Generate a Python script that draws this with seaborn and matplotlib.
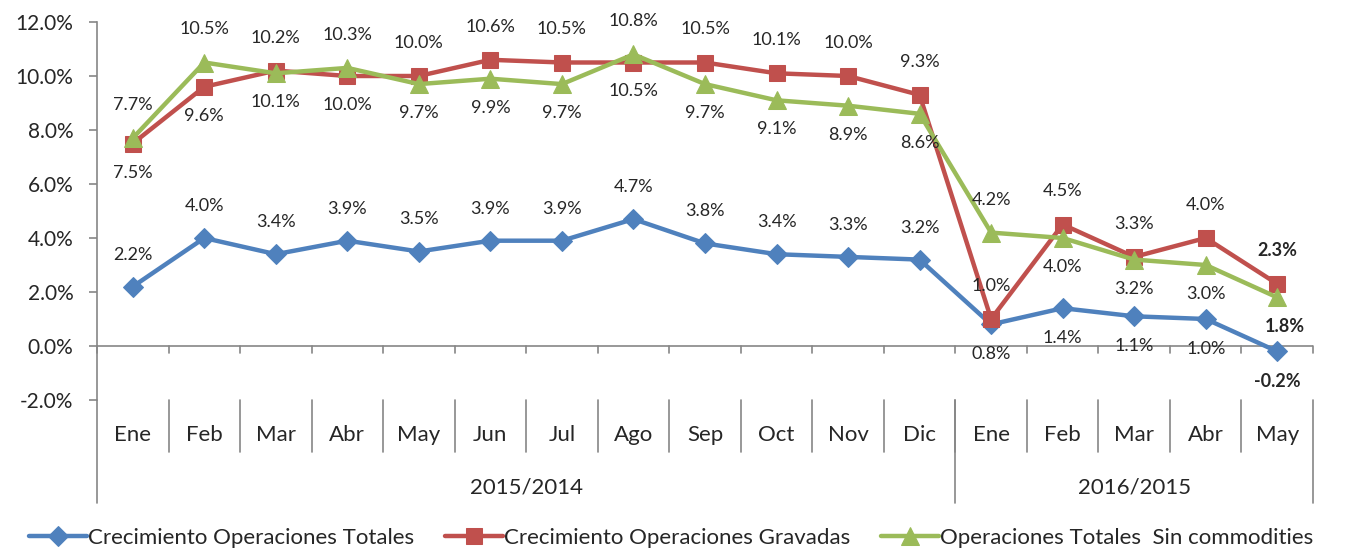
import pandas as pd
import seaborn as sns
import matplotlib.pyplot as plt
from matplotlib.transforms import blended_transform_factory

meses = ['Ene', 'Feb', 'Mar', 'Abr', 'May', 'Jun', 'Jul', 'Ago', 'Sep', 'Oct', 'Nov', 'Dic',
         'Ene', 'Feb', 'Mar', 'Abr', 'May']
grupos = ['2015/2014', '2016/2015']
grupo_len = [12, 5]

totales = [2.2, 4.0, 3.4, 3.9, 3.5, 3.9, 3.9, 4.7, 3.8, 3.4, 3.3, 3.2, 0.8, 1.4, 1.1, 1.0, -0.2]
gravadas = [7.5, 9.6, 10.2, 10.0, 10.0, 10.6, 10.5, 10.5, 10.5, 10.1, 10.0, 9.3, 1.0, 4.5, 3.3, 4.0, 2.3]
sin_comm = [7.7, 10.5, 10.1, 10.3, 9.7, 9.9, 9.7, 10.8, 9.7, 9.1, 8.9, 8.6, 4.2, 4.0, 3.2, 3.0, 1.8]

nombres = ['Crecimiento Operaciones Totales', 'Crecimiento Operaciones Gravadas',
           'Operaciones Totales  Sin commodities']
colores = ['#4F81BD', '#C0504D', '#9BBB59']
marcas = ['D', 's', '^']
tam = [10, 12, 13]

sns.set_style('white')
plt.rcParams['font.family'] = ['Lato', 'DejaVu Sans']

fig = plt.figure(figsize=(13.45, 5.53), dpi=100)
ax = fig.add_axes([97 / 1345, 1 - 400 / 553, (1313 - 97) / 1345, 378 / 553])

pos = list(range(len(meses)))
series = [totales, gravadas, sin_comm]
for vals, nom, col, m, s in zip(series, nombres, colores, marcas, tam):
    df = pd.DataFrame({'pos': pos, 'val': vals})
    sns.lineplot(data=df, x='pos', y='val', ax=ax, color=col, marker=m, markersize=s,
                 markeredgecolor=col, linewidth=3.2, label=nom)

# etiquetas de datos
n = len(meses)
fs_lab = 13
for i in range(n):
    last = (i == n - 1)
    fw = 'bold' if last else 'normal'
    dy = 32 if i < 12 else -30
    ax.annotate(f'{totales[i]:.1f}%', (i, totales[i]), xytext=(0, dy), textcoords='offset pixels',
                ha='center', va='center', fontsize=fs_lab, fontweight=fw)
    if i == 12:
        r_up, g_up = True, True
    else:
        r_up = gravadas[i] >= sin_comm[i]
        g_up = not r_up
    ax.annotate(f'{gravadas[i]:.1f}%', (i, gravadas[i]), xytext=(0, 33 if r_up else -29),
                textcoords='offset pixels', ha='center', va='center', fontsize=fs_lab, fontweight=fw)
    gx = 8 if last else 0
    ax.annotate(f'{sin_comm[i]:.1f}%', (i, sin_comm[i]), xytext=(gx, 33 if g_up else -29),
                textcoords='offset pixels', ha='center', va='center', fontsize=fs_lab, fontweight=fw)

ax.set_xlim(-0.5, n - 0.5)
ax.set_ylim(-2, 12)
ax.set_yticks(range(-2, 13, 2))
ax.set_yticklabels([f'{v:.1f}%' for v in range(-2, 13, 2)], fontsize=15)
ax.set_xticks([])
ax.set_xlabel('')
ax.set_ylabel('')
for sp in ['top', 'right', 'bottom']:
    ax.spines[sp].set_visible(False)
gris = '#868686'
ax.spines['left'].set_color(gris)
ax.spines['left'].set_linewidth(1.2)
ax.tick_params(axis='y', left=True, length=6, width=1.2, color=gris, pad=11)

# eje en cero con marcas
ax.axhline(0, color=gris, linewidth=1.2, zorder=1)
tr = blended_transform_factory(ax.transData, ax.transAxes)
y0 = 2 / 14
for b in range(n + 1):
    ax.plot([b - 0.5, b - 0.5], [y0, y0 - 0.018], color=gris, lw=1.2, transform=tr, clip_on=False)

# categorias en dos niveles
fs_cat = 16
for i, m in enumerate(meses):
    ax.text(i, -0.093, m, transform=tr, ha='center', va='center', fontsize=fs_cat)
for b in range(1, n):
    ax.plot([b - 0.5, b - 0.5], [0, -0.138], color=gris, lw=1.2, transform=tr, clip_on=False)
start = 0
for g, L in zip(grupos, grupo_len):
    ax.text(start + (L - 1) / 2, -0.232, g, transform=tr, ha='center', va='center', fontsize=fs_cat)
    start += L
for b in [0, 12, 17]:
    ax.plot([b - 0.5, b - 0.5], [0, -0.273], color=gris, lw=1.2, transform=tr, clip_on=False)

h, l = ax.get_legend_handles_labels()
ax.get_legend().remove()
fig.legend(h, l, loc='center', bbox_to_anchor=(671 / 1345, 1 - 538 / 553), ncol=3, frameon=False,
           fontsize=16, handlelength=2.6, handletextpad=0.05, columnspacing=1.4, borderaxespad=0)

fig.savefig('out.png', dpi=100)
